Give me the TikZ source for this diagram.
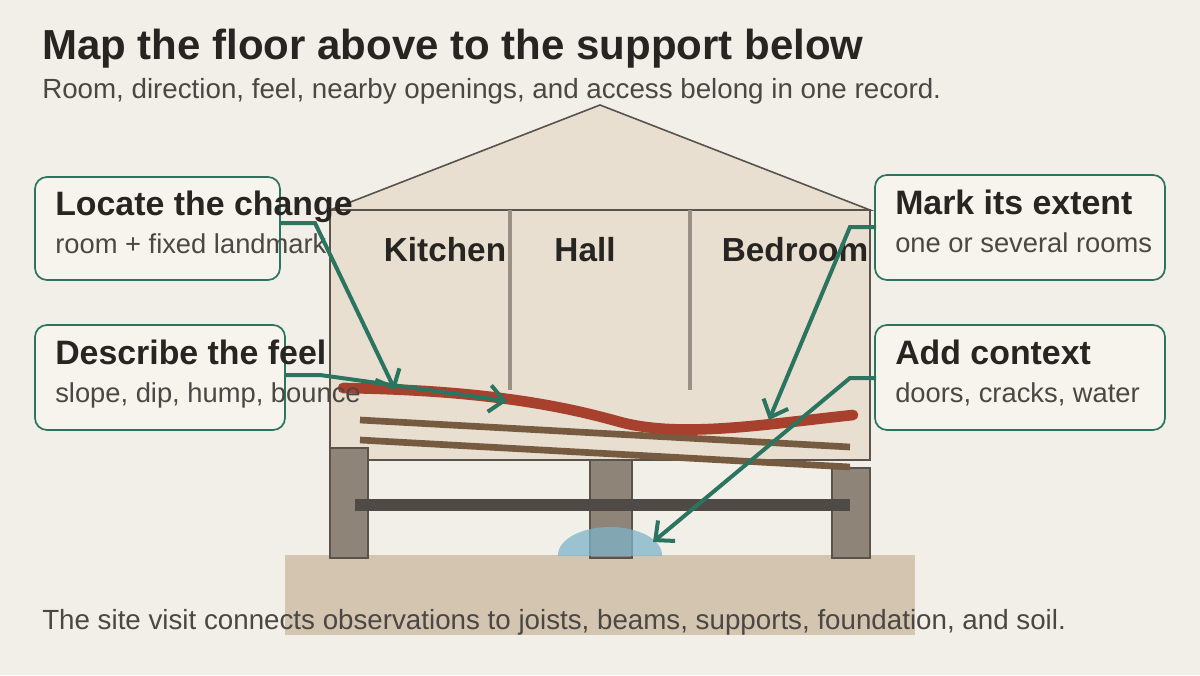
\documentclass[tikz,border=0pt]{standalone}
\usepackage{fontspec}
\setmainfont{Liberation Sans}
\usetikzlibrary{arrows.meta}
\definecolor{bg}{HTML}{F2EFE9}
\definecolor{ink}{HTML}{262522}
\definecolor{sub}{HTML}{4A4744}
\definecolor{wallf}{HTML}{E8DFD0}
\definecolor{walld}{HTML}{5A534C}
\definecolor{part}{HTML}{9A9086}
\definecolor{grnd}{HTML}{D3C5AF}
\definecolor{post}{HTML}{8E8478}
\definecolor{beam}{HTML}{4F4A45}
\definecolor{joist}{HTML}{765B40}
\definecolor{floorc}{HTML}{A8402E}
\definecolor{water}{HTML}{7FB3C8}
\definecolor{green}{HTML}{2B7560}
\definecolor{boxf}{HTML}{F7F4EE}
\tikzset{
 box/.style={draw=green,fill=boxf,line width=1.3pt,rounded corners=9pt},
 btitle/.style={anchor=base west,font=\fontsize{25.4}{28}\selectfont\bfseries,text=ink,inner sep=0},
 btext/.style={anchor=base west,font=\fontsize{20.5}{24}\selectfont,text=sub,inner sep=0},
 room/.style={anchor=base,font=\fontsize{25}{28}\selectfont\bfseries,text=ink,inner sep=0},
 call/.style={draw=green,line width=3pt,-{Straight Barb[length=11pt,width=20pt,line width=3pt]}},
}
\begin{document}
\begin{tikzpicture}[x=0.75pt,y=-0.75pt]
\fill[bg] (0,0) rectangle (1200,675);
\useasboundingbox (0,0) rectangle (1200,675);
% ground
\fill[grnd] (285,555) rectangle (915,635);
% house
\draw[fill=wallf,draw=walld,line width=1.2pt] (330,210) -- (600,105) -- (870,210) -- cycle;
\draw[fill=wallf,draw=walld,line width=1.2pt] (330,210) rectangle (870,460);
\draw[part,line width=3pt] (510,210) -- (510,390);
\draw[part,line width=3pt] (690,210) -- (690,390);
% posts
\draw[fill=post,draw=walld,line width=1.2pt] (330,448) rectangle (368,558);
\draw[fill=post,draw=walld,line width=1.2pt] (590,460) rectangle (632,558);
\draw[fill=post,draw=walld,line width=1.2pt] (832,468) rectangle (870,558);
% joists
\draw[joist,line width=5pt] (360,420) -- (850,447);
\draw[joist,line width=5pt] (360,440) -- (850,467);
% beam
\draw[beam,line width=9pt] (355,505) -- (850,505);
% water
\begin{scope}
\clip (540,500) rectangle (680,555);
\fill[water,opacity=0.75] (610,555) ellipse [x radius=52, y radius=28];
\end{scope}
% floor
\draw[floorc,line width=8pt,line cap=round] (343,388) .. controls (480,390) and (560,405) .. (620,422) .. controls (680,438) and (760,425) .. (853,415);
% rooms
\node[room] (kit) at (445,261) {Kitchen};
\node[room] (hall) at (585,261) {Hall};
\node[room] (bed) at (795,261) {Bedroom};
% title
\node[anchor=base west,inner sep=0,font=\fontsize{31.5}{34}\selectfont\bfseries,text=ink] (title) at (42,59) {Map the floor above to the support below};
\node[anchor=base west,inner sep=0,font=\fontsize{20.8}{24}\selectfont,text=sub] (subt) at (42,98) {Room, direction, feel, nearby openings, and access belong in one record.};
\node[anchor=base west,inner sep=0,font=\fontsize{20.8}{24}\selectfont,text=sub] (foot) at (42,629) {The site visit connects observations to joists, beams, supports, foundation, and soil.};
% boxes
\draw[box] (35,177) rectangle (280,280);
\draw[box] (35,325) rectangle (285,430);
\draw[box] (875,175) rectangle (1165,280);
\draw[box] (875,325) rectangle (1165,430);
\node[btitle] (t1) at (55,215) {Locate the change};
\node[btext] (s1) at (55,253) {room + fixed landmark};
\node[btitle] (t2) at (55,364) {Describe the feel};
\node[btext] (s2) at (55,402) {slope, dip, hump, bounce};
\node[btitle] (t3) at (895,214) {Mark its extent};
\node[btext] (s3) at (895,252) {one or several rooms};
\node[btitle] (t4) at (895,364) {Add context};
\node[btext] (s4) at (895,402) {doors, cracks, water};
% connectors
\coordinate (a1) at (279,223); \coordinate (e1) at (395,390);
\coordinate (a2) at (285,375); \coordinate (e2) at (507,401);
\coordinate (a3) at (876,227); \coordinate (e3) at (769,420);
\coordinate (a4) at (876,378); \coordinate (e4) at (653,542);
\draw[call] (a1) -- (315,223) -- (e1);
\draw[call] (a2) -- (320,375) -- (e2);
\draw[call] (a3) -- (850,227) -- (e3);
\draw[call] (a4) -- (850,378) -- (e4);
\end{tikzpicture}
\end{document}
